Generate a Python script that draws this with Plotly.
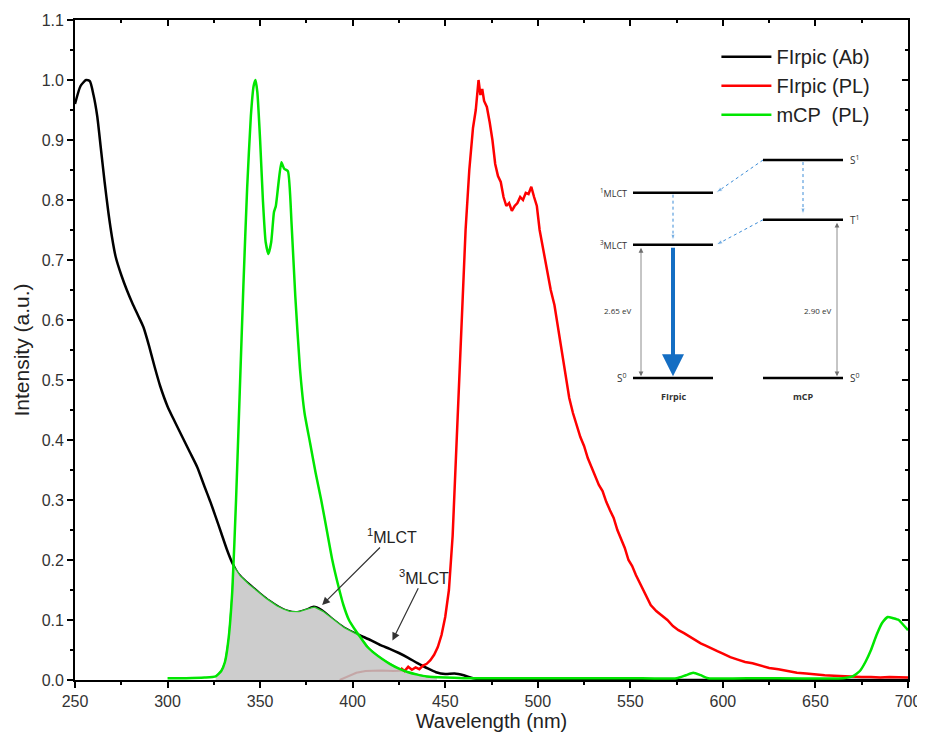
import numpy as np
import plotly.graph_objects as go

# ---------------- data ----------------
wl_ab = [250, 253, 256, 258, 260, 262, 264, 266, 268, 270, 272, 275, 278, 281, 284, 287, 290, 293, 296, 300,
         304, 308, 312, 316, 320, 323, 326, 329, 332, 335, 338, 341, 345, 350, 355, 360, 365, 370, 375, 379,
         383, 387, 391, 395, 400, 405, 410, 415, 420, 425, 430, 435, 440, 445, 450, 455, 460, 465, 470, 480,
         500, 550, 600, 650, 700]
firpic_ab = [0.96, 0.99, 1.0, 0.998, 0.975, 0.94, 0.885, 0.83, 0.78, 0.738, 0.705, 0.675, 0.65, 0.628, 0.608,
             0.588, 0.557, 0.522, 0.49, 0.456, 0.43, 0.405, 0.38, 0.355, 0.322, 0.298, 0.272, 0.245, 0.218,
             0.195, 0.178, 0.168, 0.157, 0.144, 0.132, 0.122, 0.115, 0.113, 0.117, 0.122, 0.117, 0.107, 0.097,
             0.088, 0.08, 0.073, 0.066, 0.058, 0.052, 0.045, 0.037, 0.028, 0.02, 0.013, 0.01, 0.011, 0.008,
             0.003, 0.001, 0.0, 0.0, 0.0, 0.0, 0.0, 0.0]

wl_pl = [426, 428, 430, 432, 434, 436, 438, 440, 442, 444, 446, 448, 450, 452, 454, 456, 458, 459.5, 461, 463,
         465, 466.5, 468, 469, 470, 471, 472.5, 474, 475.5, 477, 478.5, 480, 481.5, 483, 484.5, 486, 487.5,
         489, 490.5, 492, 493.5, 495, 496.5, 498, 499.5, 501, 503, 505, 507, 509, 511, 513, 515, 517, 519,
         521, 523, 525, 527, 529, 531, 533, 535, 537, 539, 541, 543, 545, 547, 549, 551, 553, 555, 558, 561,
         564, 567, 570, 573, 576, 579, 582, 585, 588, 591, 594, 597, 600, 604, 608, 612, 616, 620, 625, 630,
         635, 640, 645, 650, 655, 660, 665, 670, 675, 680, 685, 690, 695, 700]
firpic_pl = [0.02, 0.015, 0.022, 0.017, 0.021, 0.018, 0.024, 0.027, 0.033, 0.042, 0.055, 0.075, 0.105, 0.15,
             0.24, 0.38, 0.52, 0.64, 0.75, 0.85, 0.92, 0.95, 1.0, 0.975, 0.985, 0.965, 0.955, 0.93, 0.9,
             0.86, 0.84, 0.83, 0.805, 0.79, 0.795, 0.782, 0.79, 0.795, 0.805, 0.8, 0.812, 0.81, 0.822, 0.805,
             0.79, 0.75, 0.715, 0.68, 0.65, 0.625, 0.585, 0.55, 0.505, 0.47, 0.445, 0.425, 0.405, 0.39, 0.37,
             0.355, 0.34, 0.325, 0.315, 0.297, 0.283, 0.27, 0.25, 0.235, 0.22, 0.2, 0.19, 0.175, 0.162, 0.145,
             0.125, 0.115, 0.108, 0.1, 0.09, 0.083, 0.078, 0.072, 0.067, 0.061, 0.057, 0.052, 0.048, 0.044,
             0.038, 0.034, 0.03, 0.028, 0.025, 0.02, 0.018, 0.015, 0.012, 0.011, 0.009, 0.008, 0.007, 0.006,
             0.005, 0.005, 0.005, 0.004, 0.005, 0.004, 0.004]

wl_mcp = [300, 310, 320, 326, 329, 331, 333, 335, 337, 339, 341, 343, 345, 346.5, 347.5, 348.5, 350, 351.5,
          353, 354.5, 356, 357.5, 358.5, 360, 361.5, 363, 365, 367, 369, 371.5, 374, 377, 380, 383, 386, 389,
          392, 395, 398, 401, 404, 408, 412, 416, 420, 425, 430, 435, 440, 450, 460, 500, 550, 575, 580, 584,
          588, 592, 620, 665, 670, 674, 677, 680, 683, 686, 689, 692, 695, 698, 700]
mcp_pl = [0.003, 0.003, 0.004, 0.006, 0.015, 0.03, 0.07, 0.15, 0.3, 0.48, 0.66, 0.82, 0.94, 0.99, 1.0, 0.98,
          0.9, 0.8, 0.73, 0.71, 0.73, 0.78, 0.79, 0.83, 0.863, 0.852, 0.848, 0.76, 0.64, 0.52, 0.445, 0.395,
          0.345, 0.3, 0.25, 0.2, 0.16, 0.125, 0.1, 0.085, 0.072, 0.055, 0.044, 0.035, 0.027, 0.019, 0.013,
          0.009, 0.006, 0.004, 0.003, 0.003, 0.003, 0.003, 0.008, 0.012, 0.008, 0.003, 0.003, 0.003, 0.006,
          0.015, 0.03, 0.05, 0.075, 0.095, 0.105, 0.103, 0.1, 0.09, 0.083]

wl_faint = [393, 398, 402, 407, 415, 422, 428]
faint_vals = [0.0, 0.006, 0.012, 0.015, 0.016, 0.015, 0.016]

# overlap (shaded) region: under both the absorption and the mCP emission
overlap_wl = np.arange(326, 446, 0.5)
overlap_vals = np.minimum(np.interp(overlap_wl, wl_ab, firpic_ab), np.interp(overlap_wl, wl_mcp, mcp_pl))

# inset energy-level diagram (schematic units)
levels_firpic = {"S0": 0.0, "3MLCT": 2.65, "1MLCT": 3.69}
levels_mcp = {"S0": 0.0, "T1": 3.15, "S1": 4.34}
col_firpic = [633, 713]
col_mcp = [763, 843]
gap_firpic = "2.65 eV"
gap_mcp = "2.90 eV"

FONT = "Liberation Sans, Arial, sans-serif"
NARROW = "Liberation Sans Narrow, Arial Narrow, Liberation Sans, Arial, sans-serif"
SMALL = "Open Sans, Noto Sans, sans-serif"

fig = go.Figure()

fig.add_trace(go.Scatter(x=wl_ab, y=firpic_ab, mode="lines", name="FIrpic (Ab)",
                         line=dict(color="black", width=2.5, shape="spline", smoothing=0.6)))
fig.add_trace(go.Scatter(x=overlap_wl, y=overlap_vals, mode="lines", fill="tozeroy",
                         fillcolor="rgb(205,205,205)", line=dict(color="rgb(40,200,40)", width=1.3),
                         showlegend=False, hoverinfo="skip"))
fig.add_trace(go.Scatter(x=wl_faint, y=faint_vals, mode="lines", showlegend=False,
                         line=dict(color="rgba(190,140,140,0.6)", width=2), hoverinfo="skip"))
fig.add_trace(go.Scatter(x=wl_pl, y=firpic_pl, mode="lines", name="FIrpic (PL)",
                         line=dict(color="rgb(255,0,0)", width=2.5)))
fig.add_trace(go.Scatter(x=wl_mcp, y=mcp_pl, mode="lines", name="mCP  (PL)",
                         line=dict(color="rgb(0,230,0)", width=2.5, shape="spline", smoothing=0.5)))

# mirror axes (top / right, inside ticks)
fig.add_trace(go.Scatter(x=[], y=[], xaxis="x2", yaxis="y2", showlegend=False, hoverinfo="skip"))

# ---- inset diagram ----
def lvl(xs, yv):
    fig.add_trace(go.Scatter(x=xs, y=[yv, yv], mode="lines", line=dict(color="black", width=2.5),
                             xaxis="x3", yaxis="y3", showlegend=False, hoverinfo="skip"))

for v in levels_firpic.values():
    lvl(col_firpic, v)
for v in levels_mcp.values():
    lvl(col_mcp, v)

blue = "rgb(60,140,215)"
def dotted(x0, y0, x1, y1):
    fig.add_trace(go.Scatter(x=[x0, x1], y=[y0, y1], mode="lines+markers",
                             line=dict(color=blue, width=1, dash="dot"),
                             marker=dict(symbol="arrow", size=[0, 7], angleref="previous", color=blue),
                             xaxis="x3", yaxis="y3", showlegend=False, hoverinfo="skip"))

dotted(col_mcp[0], levels_mcp["S1"], col_firpic[1] + 3, levels_firpic["1MLCT"])
dotted(sum(col_mcp) / 2, levels_mcp["S1"] - 0.04, sum(col_mcp) / 2, levels_mcp["T1"] + 0.1)
dotted(col_mcp[0], levels_mcp["T1"], col_firpic[1] + 3, levels_firpic["3MLCT"])
dotted(sum(col_firpic) / 2, levels_firpic["1MLCT"] - 0.04, sum(col_firpic) / 2, levels_firpic["3MLCT"] + 0.08)

ann = []
# thick blue emission arrow
ann.append(dict(x=sum(col_firpic) / 2, y=levels_firpic["S0"] + 0.03, ax=sum(col_firpic) / 2,
                ay=levels_firpic["3MLCT"] - 0.03, xref="x3", yref="y3", axref="x3", ayref="y3",
                showarrow=True, arrowhead=2, arrowsize=1.1, arrowwidth=4, arrowcolor="rgb(20,110,195)", text=""))
# energy gap arrows
ann.append(dict(x=641, y=levels_firpic["S0"] + 0.03, ax=641, ay=levels_firpic["3MLCT"] - 0.03,
                xref="x3", yref="y3", axref="x3", ayref="y3", showarrow=True, arrowhead=2, arrowside="end+start",
                arrowsize=1.2, arrowwidth=0.8, arrowcolor="rgb(110,110,110)", text=""))
ann.append(dict(x=837, y=levels_mcp["S0"] + 0.03, ax=837, ay=levels_mcp["T1"] - 0.03,
                xref="x3", yref="y3", axref="x3", ayref="y3", showarrow=True, arrowhead=2, arrowside="end+start",
                arrowsize=1.2, arrowwidth=0.8, arrowcolor="rgb(110,110,110)", text=""))

def itext(x, y, t, anchor="center", size=9, bold=False):
    ann.append(dict(x=x, y=y, xref="x3", yref="y3", text=("<b>%s</b>" % t) if bold else t, showarrow=False,
                    xanchor=anchor, yanchor="middle", font=dict(family=SMALL, size=size, color="#333")))

itext(629, levels_firpic["1MLCT"], "<sup>1</sup>MLCT", "right", 9)
itext(629, levels_firpic["3MLCT"], "<sup>3</sup>MLCT", "right", 9)
itext(629, levels_firpic["S0"], "S<sup>0</sup>", "right", 10)
itext(848, levels_mcp["S1"], "S<sup>1</sup>", "left", 10)
itext(848, levels_mcp["T1"], "T<sup>1</sup>", "left", 10)
itext(848, levels_mcp["S0"], "S<sup>0</sup>", "left", 10)
itext(sum(col_firpic) / 2, -0.38, "FIrpic", "center", 9, True)
itext(sum(col_mcp) / 2, -0.38, "mCP", "center", 9, True)
itext(617, 1.35, gap_firpic, "center", 8)
itext(817, 1.35, gap_mcp, "center", 8)

# main annotations
ann.append(dict(x=383.5, y=0.125, ax=421, ay=0.24, xref="x", yref="y", axref="x", ayref="y",
                text="<sup>1</sup>MLCT", showarrow=True, arrowhead=2, arrowsize=1.3, arrowwidth=1.2,
                arrowcolor="#333", font=dict(family=FONT, size=16, color="#222")))
ann.append(dict(x=421.5, y=0.066, ax=438.5, ay=0.172, xref="x", yref="y", axref="x", ayref="y",
                text="<sup>3</sup>MLCT", showarrow=True, arrowhead=2, arrowsize=1.3, arrowwidth=1.2,
                arrowcolor="#333", font=dict(family=FONT, size=16, color="#222")))

axis_common = dict(showgrid=False, zeroline=False, showline=True, linecolor="black", linewidth=1.8,
                   tickcolor="black", tickwidth=1.5, automargin=False)

# the page adds an 8 px body margin, so the figure is sized/placed to compensate
fig.update_layout(
    width=917, height=728,
    margin=dict(l=67, r=17, t=12, b=56, autoexpand=False),
    paper_bgcolor="white", plot_bgcolor="white",
    font=dict(family=FONT, color="#333"),
    annotations=ann,
    legend=dict(x=0.77, y=0.974, xanchor="left", yanchor="top", bgcolor="rgba(0,0,0,0)",
                font=dict(family=FONT, size=20, color="#222"), itemwidth=50, tracegroupgap=0),
    xaxis=dict(range=[250, 700], tick0=250, dtick=50, ticks="outside", ticklen=6,
               minor=dict(ticks="outside", dtick=25, ticklen=3, tickcolor="black"),
               tickfont=dict(family=FONT, size=16, color="#333"),
               title=dict(text="Wavelength (nm)", font=dict(family=NARROW, size=20, color="#222"), standoff=0),
               **axis_common),
    yaxis=dict(range=[0, 1.1], tick0=0, dtick=0.1, tickformat=".1f", ticks="outside", ticklen=6,
               minor=dict(ticks="outside", dtick=0.05, ticklen=3, tickcolor="black"),
               tickfont=dict(family=FONT, size=16, color="#333"),
               title=dict(text="Intensity (a.u.)", font=dict(family=NARROW, size=21, color="#222"), standoff=6),
               **axis_common),
    xaxis2=dict(overlaying="x", side="top", anchor="y2", range=[250, 700], tick0=250, dtick=50,
                ticks="inside", ticklen=6, showticklabels=False,
                minor=dict(ticks="inside", dtick=25, ticklen=3, tickcolor="black"), **axis_common),
    yaxis2=dict(overlaying="y", side="right", anchor="x2", range=[0, 1.1], tick0=0, dtick=0.1,
                ticks="inside", ticklen=6, showticklabels=False,
                minor=dict(ticks="inside", dtick=0.05, ticklen=3, tickcolor="black"), **axis_common),
    xaxis3=dict(domain=[(595 - 75) / 833, (885 - 75) / 833], range=[595, 885], anchor="y3", visible=False),
    yaxis3=dict(domain=[(680 - 410) / 660, (680 - 150) / 660], range=[-0.64, 4.54], anchor="x3", visible=False),
)

fig.write_html("out.html")
